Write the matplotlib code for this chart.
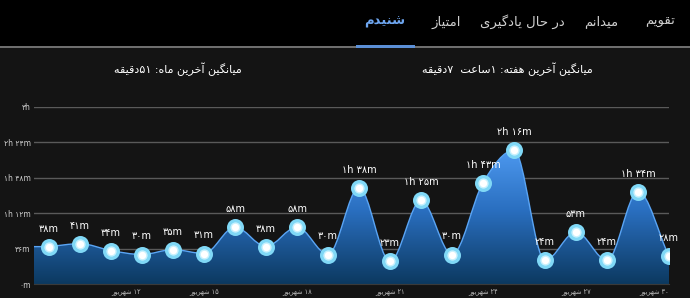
import numpy as np
import matplotlib
matplotlib.use('agg')
import matplotlib.pyplot as plt
from matplotlib.path import Path
from matplotlib.patches import PathPatch, Rectangle
from matplotlib.colors import LinearSegmentedColormap

# listening time per day (minutes), 10..30 Shahrivar
days = list(range(10, 31))
minutes = [38, 41, 34, 30, 35, 31, 58, 38, 58, 30, 98, 23, 85, 30, 103, 136, 24, 53, 24, 94, 28]
tick_days = [12, 15, 18, 21, 24, 27, 30]
y_ticks = [0, 36, 72, 108, 144, 180]

tabs = ['تقویم', 'میدانم', 'در حال یادگیری', 'امتیاز', 'شنیدم']
tab_x = [660, 601, 522, 446, 385]
month_title = 'میانگین آخرین ماه: ۵۱دقیقه'
week_title = 'میانگین آخرین هفته: ۱ساعت  ۷دقیقه'
month_name = 'شهریور'

# --- minimal persian shaping + rtl ordering (matplotlib does neither) ---
FORMS = {
    'ا': ('\ufe8d', '\ufe8e'), 'آ': ('\ufe81', '\ufe82'),
    'د': ('\ufea9', '\ufeaa'), 'ر': ('\ufead', '\ufeae'),
    'ز': ('\ufeaf', '\ufeb0'), 'و': ('\ufeed', '\ufeee'),
    'ت': ('\ufe95', '\ufe96', '\ufe97', '\ufe98'),
    'ح': ('\ufea1', '\ufea2', '\ufea3', '\ufea4'),
    'خ': ('\ufea5', '\ufea6', '\ufea7', '\ufea8'),
    'س': ('\ufeb1', '\ufeb2', '\ufeb3', '\ufeb4'),
    'ش': ('\ufeb5', '\ufeb6', '\ufeb7', '\ufeb8'),
    'ع': ('\ufec9', '\ufeca', '\ufecb', '\ufecc'),
    'ف': ('\ufed1', '\ufed2', '\ufed3', '\ufed4'),
    'ق': ('\ufed5', '\ufed6', '\ufed7', '\ufed8'),
    'ل': ('\ufedd', '\ufede', '\ufedf', '\ufee0'),
    'م': ('\ufee1', '\ufee2', '\ufee3', '\ufee4'),
    'ن': ('\ufee5', '\ufee6', '\ufee7', '\ufee8'),
    'ه': ('\ufee9', '\ufeea', '\ufeeb', '\ufeec'),
    'ی': ('\ufbfc', '\ufbfd', '\ufbfe', '\ufbff'),
    'گ': ('\ufb92', '\ufb93', '\ufb94', '\ufb95'),
}
DIGITS = '0123456789۰۱۲۳۴۵۶۷۸۹'


def shape_run(run):
    out = []
    for i, c in enumerate(run):
        f = FORMS[c]
        prev = i > 0 and len(FORMS[run[i - 1]]) == 4
        nxt = i < len(run) - 1 and len(f) == 4
        if prev and nxt:
            out.append(f[3])
        elif prev:
            out.append(f[1])
        elif nxt:
            out.append(f[2])
        else:
            out.append(f[0])
    return ''.join(reversed(out))


def fa(text):
    runs = []
    for c in text:
        kind = 'a' if c in FORMS else 'd' if c in DIGITS else 'o'
        if runs and runs[-1][0] == kind and kind != 'o':
            runs[-1][1] += c
        else:
            runs.append([kind, c])
    return ''.join(shape_run(r) if k == 'a' else r for k, r in reversed(runs))


def fa_digits(s):
    return s.translate(str.maketrans('0123456789', '۰۱۲۳۴۵۶۷۸۹'))


def dur(m):
    h, mm = divmod(int(m), 60)
    if h and mm:
        return fa_digits(f'{h}h {mm}m')
    if h:
        return fa_digits(f'{h}h')
    return fa_digits(f'{mm}m')


def monotone_path(x, y):
    x = np.asarray(x, float)
    y = np.asarray(y, float)
    h = np.diff(x)
    s = np.diff(y) / h
    m = np.zeros_like(y)
    m[0], m[-1] = s[0], s[-1]
    for i in range(1, len(y) - 1):
        if s[i - 1] * s[i] > 0:
            p = (s[i - 1] + s[i]) / 2
            m[i] = np.sign(s[i]) * min(abs(s[i - 1]), abs(s[i]), 0.5 * abs(p)) * 2
    verts = [(x[0], y[0])]
    codes = [Path.LINETO]
    for i in range(len(x) - 1):
        verts += [(x[i] + h[i] / 3, y[i] + m[i] * h[i] / 3),
                  (x[i + 1] - h[i] / 3, y[i + 1] - m[i + 1] * h[i] / 3),
                  (x[i + 1], y[i + 1])]
        codes += [Path.CURVE4] * 3
    return verts, codes


plt.rcParams['font.family'] = ['DejaVu Sans']
fig = plt.figure(figsize=(6.9, 2.98), dpi=100)
fig.patch.set_facecolor('#141414')

# top pivot bar
fig.patches.append(Rectangle((0, 1 - 46 / 298), 1, 46 / 298, transform=fig.transFigure,
                             facecolor='black', edgecolor='none', zorder=0))
fig.patches.append(Rectangle((0, 1 - 48 / 298), 1, 2 / 298, transform=fig.transFigure,
                             facecolor='#6e6e6e', edgecolor='none', zorder=1))
fig.patches.append(Rectangle((356 / 690, 1 - 48 / 298), 59 / 690, 3 / 298, transform=fig.transFigure,
                             facecolor='#5b8fd6', edgecolor='none', zorder=2))
for t, tx in zip(tabs, tab_x):
    sel = t == 'شنیدم'
    fig.text(tx / 690, 1 - 22 / 298, fa(t), ha='center', va='center', fontsize=9.5,
             color='#6ea6f0' if sel else '#d0d0d0', fontweight='bold' if sel else 'normal')

fig.text(178 / 690, 1 - 69 / 298, fa(month_title), ha='center', va='center', fontsize=8, color='white')
fig.text(507 / 690, 1 - 69 / 298, fa(week_title), ha='center', va='center', fontsize=8, color='white')

ax = fig.add_axes([33.5 / 690, 14 / 298, 635.5 / 690, 177 / 298])
ax.set_facecolor('#141414')
x = np.arange(len(minutes))
ax.set_xlim(-0.5, len(minutes) - 1)
ax.set_ylim(0, 180)

verts, codes = monotone_path(x, minutes)
area = Path([(-0.5, 0), (-0.5, minutes[0])] + verts + [(x[-1], 0), (-0.5, 0)],
            [Path.MOVETO, Path.LINETO] + codes + [Path.LINETO, Path.CLOSEPOLY])
patch = PathPatch(area, facecolor='none', edgecolor='none')
ax.add_patch(patch)
cmap = LinearSegmentedColormap.from_list('blue', ['#0c3960', '#2a6fc0', '#55a2fa'])
grad = np.linspace(0, 1, 256).reshape(-1, 1)
img = ax.imshow(grad, cmap=cmap, origin='lower', aspect='auto',
                extent=(-0.5, x[-1], 0, 150), zorder=2)
img.set_clip_path(patch)
line = Path([(-0.5, minutes[0])] + verts, [Path.MOVETO] + codes)
ax.add_patch(PathPatch(line, facecolor='none', edgecolor='#5aa5f5', lw=1, zorder=3))

ax.scatter(x, minutes, s=150, color='#80d8f6', zorder=4, linewidths=0)
ax.scatter(x, minutes, s=55, color='#c8f1fd', zorder=5, linewidths=0)
ax.scatter(x, minutes, s=28, color='white', zorder=6, linewidths=0)
for xi, v in zip(x, minutes):
    ax.annotate(dur(v), (xi, v), xytext=(0, 13), textcoords='offset points',
                ha='center', va='center', fontsize=7, color='white', zorder=7)

ax.set_yticks(y_ticks)
ax.set_yticklabels([dur(v) for v in y_ticks], fontsize=5.5, color='#cfcfcf')
ax.grid(axis='y', color='#5a5a5a', lw=1)
ax.set_axisbelow(True)
ax.tick_params(length=0, pad=2)
ax.tick_params(axis='x', pad=4)
ax.set_xticks([days.index(d) for d in tick_days])
ax.set_xticklabels([fa(fa_digits(str(d)) + ' ' + month_name) for d in tick_days],
                   fontsize=4.8, color='#bdbdbd')
labs = ax.get_xticklabels()
labs[0].set_ha('left')
labs[-1].set_ha('right')
for sp in ax.spines.values():
    sp.set_visible(False)
ax.spines['bottom'].set_visible(True)
ax.spines['bottom'].set_color('#3a3a3a')

fig.savefig('out.png', dpi=100, facecolor=fig.get_facecolor())
